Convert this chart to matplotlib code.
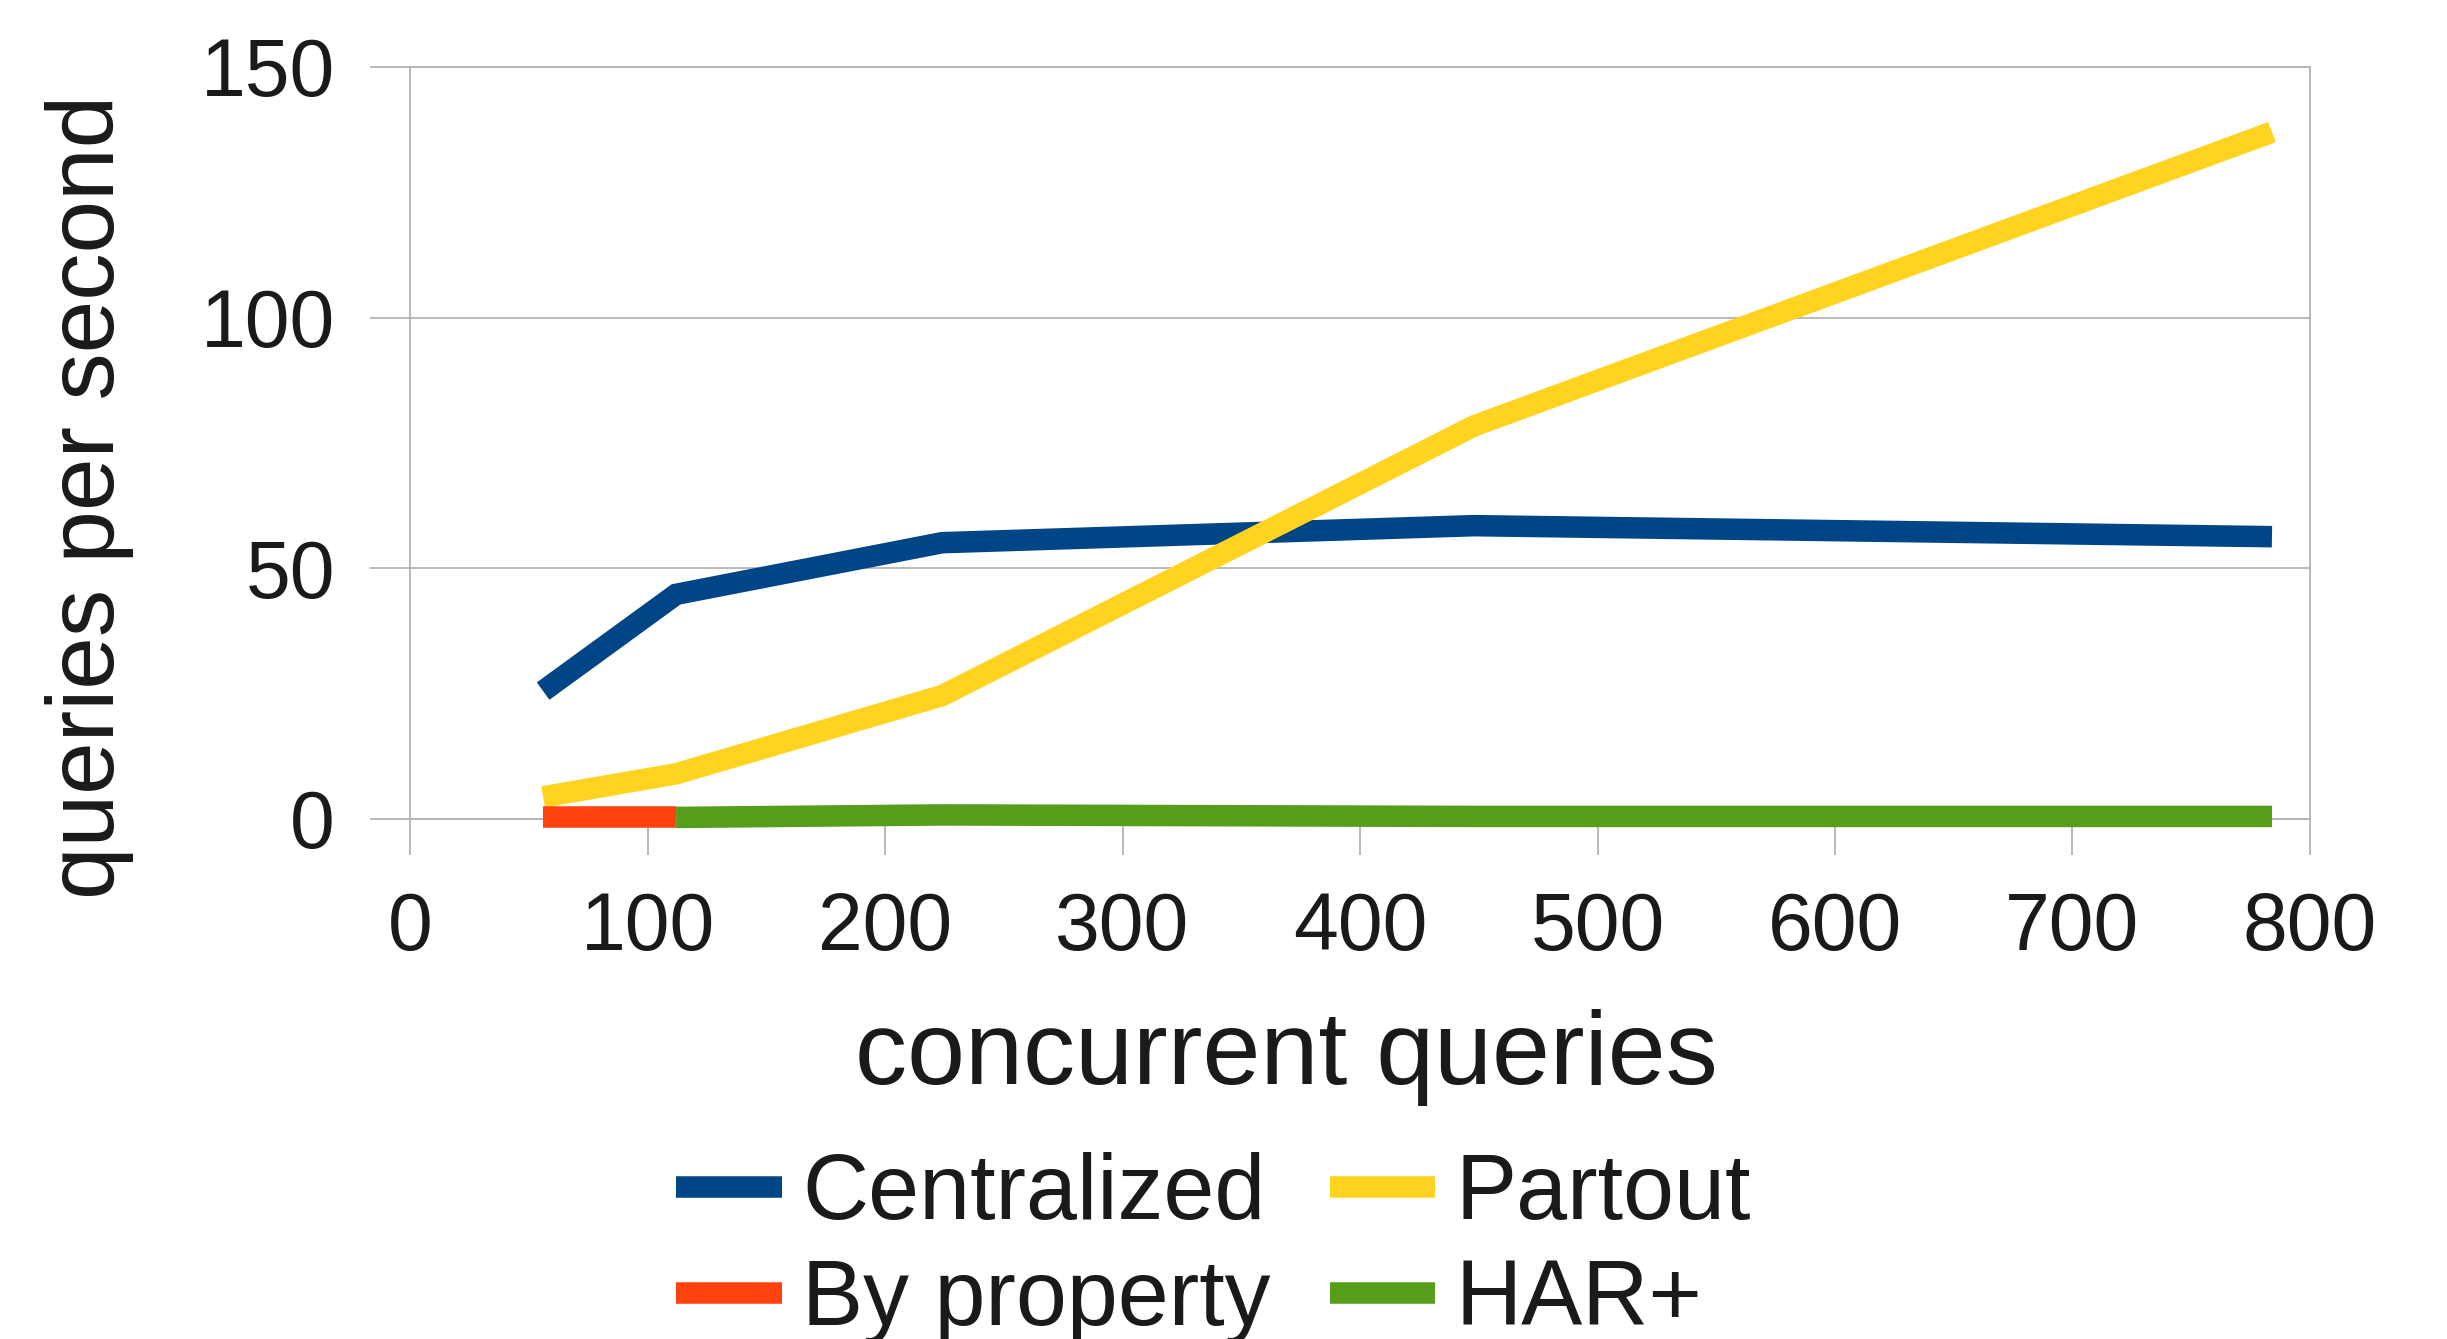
import matplotlib
matplotlib.use("Agg")
import matplotlib.pyplot as plt

plt.rcParams['font.family'] = ['Liberation Sans', 'DejaVu Sans']

x_central = [56, 112, 224, 448, 784]
y_central = [25.5, 44.8, 55.1, 58.5, 56.3]
x_partout = [56, 112, 224, 448, 784]
y_partout = [4.4, 9.0, 24.6, 78.4, 137.0]
x_byprop = [56, 112]
y_byprop = [0.3, 0.3]
x_har = [112, 224, 448, 784]
y_har = [0.3, 0.8, 0.5, 0.5]

xticks = [0, 100, 200, 300, 400, 500, 600, 700, 800]
yticks = [0, 50, 100, 150]

colors = {'Centralized': '#004586', 'Partout': '#ffd320',
          'By property': '#ff420e', 'HAR+': '#579d1c'}

fig = plt.figure(figsize=(24.47, 13.39), dpi=100)
ax = fig.add_axes([0.1676, 0.3884, 0.7764, 0.5616])

lw = 15.5
kw = dict(lw=lw, solid_capstyle='butt', solid_joinstyle='miter', clip_on=False)
l1, = ax.plot(x_central, y_central, color=colors['Centralized'], label='Centralized', zorder=3, **kw)
l2, = ax.plot(x_partout, y_partout, color=colors['Partout'], label='Partout', zorder=3, **kw)
l3, = ax.plot(x_byprop, y_byprop, color=colors['By property'], label='By property', zorder=4, **kw)
l4, = ax.plot(x_har, y_har, color=colors['HAR+'], label='HAR+', zorder=3, **kw)

ax.set_xlim(0, 800)
ax.set_ylim(0, 150)
ax.set_xticks(xticks)
ax.set_yticks(yticks)
ax.set_xticklabels([str(v) for v in xticks])
ax.set_yticklabels([str(v) for v in yticks])

grid_c = '#b3b3b3'
ax.yaxis.grid(True, color=grid_c, lw=1.3, zorder=1)
for s in ax.spines.values():
    s.set_color(grid_c)
    s.set_linewidth(1.3)
ax.tick_params(axis='x', direction='out', length=26, width=1.3, color=grid_c,
               pad=26, labelsize=58, labelcolor='#1a1a1a')
ax.tick_params(axis='y', direction='out', length=29, width=1.3, color=grid_c,
               pad=25, labelsize=58, labelcolor='#1a1a1a')

ax.set_xlabel('concurrent queries', fontsize=75, color='#1a1a1a', labelpad=30)
ax.xaxis.label.set_x(0.461)
ax.set_ylabel('queries per second', fontsize=68, color='#1a1a1a', labelpad=48)
ax.yaxis.label.set_y(0.428)

handles = [l1, l3, l2, l4]
leg = fig.legend(handles, [h.get_label() for h in handles],
                 loc='center', bbox_to_anchor=(0.496, 0.068), ncol=2,
                 fontsize=66, frameon=False, handlelength=1.15,
                 handletextpad=0.22, columnspacing=0.65, labelspacing=0.22,
                 borderpad=0)
for t in leg.get_texts():
    t.set_color('#1a1a1a')

fig.savefig('out.png', dpi=100)
